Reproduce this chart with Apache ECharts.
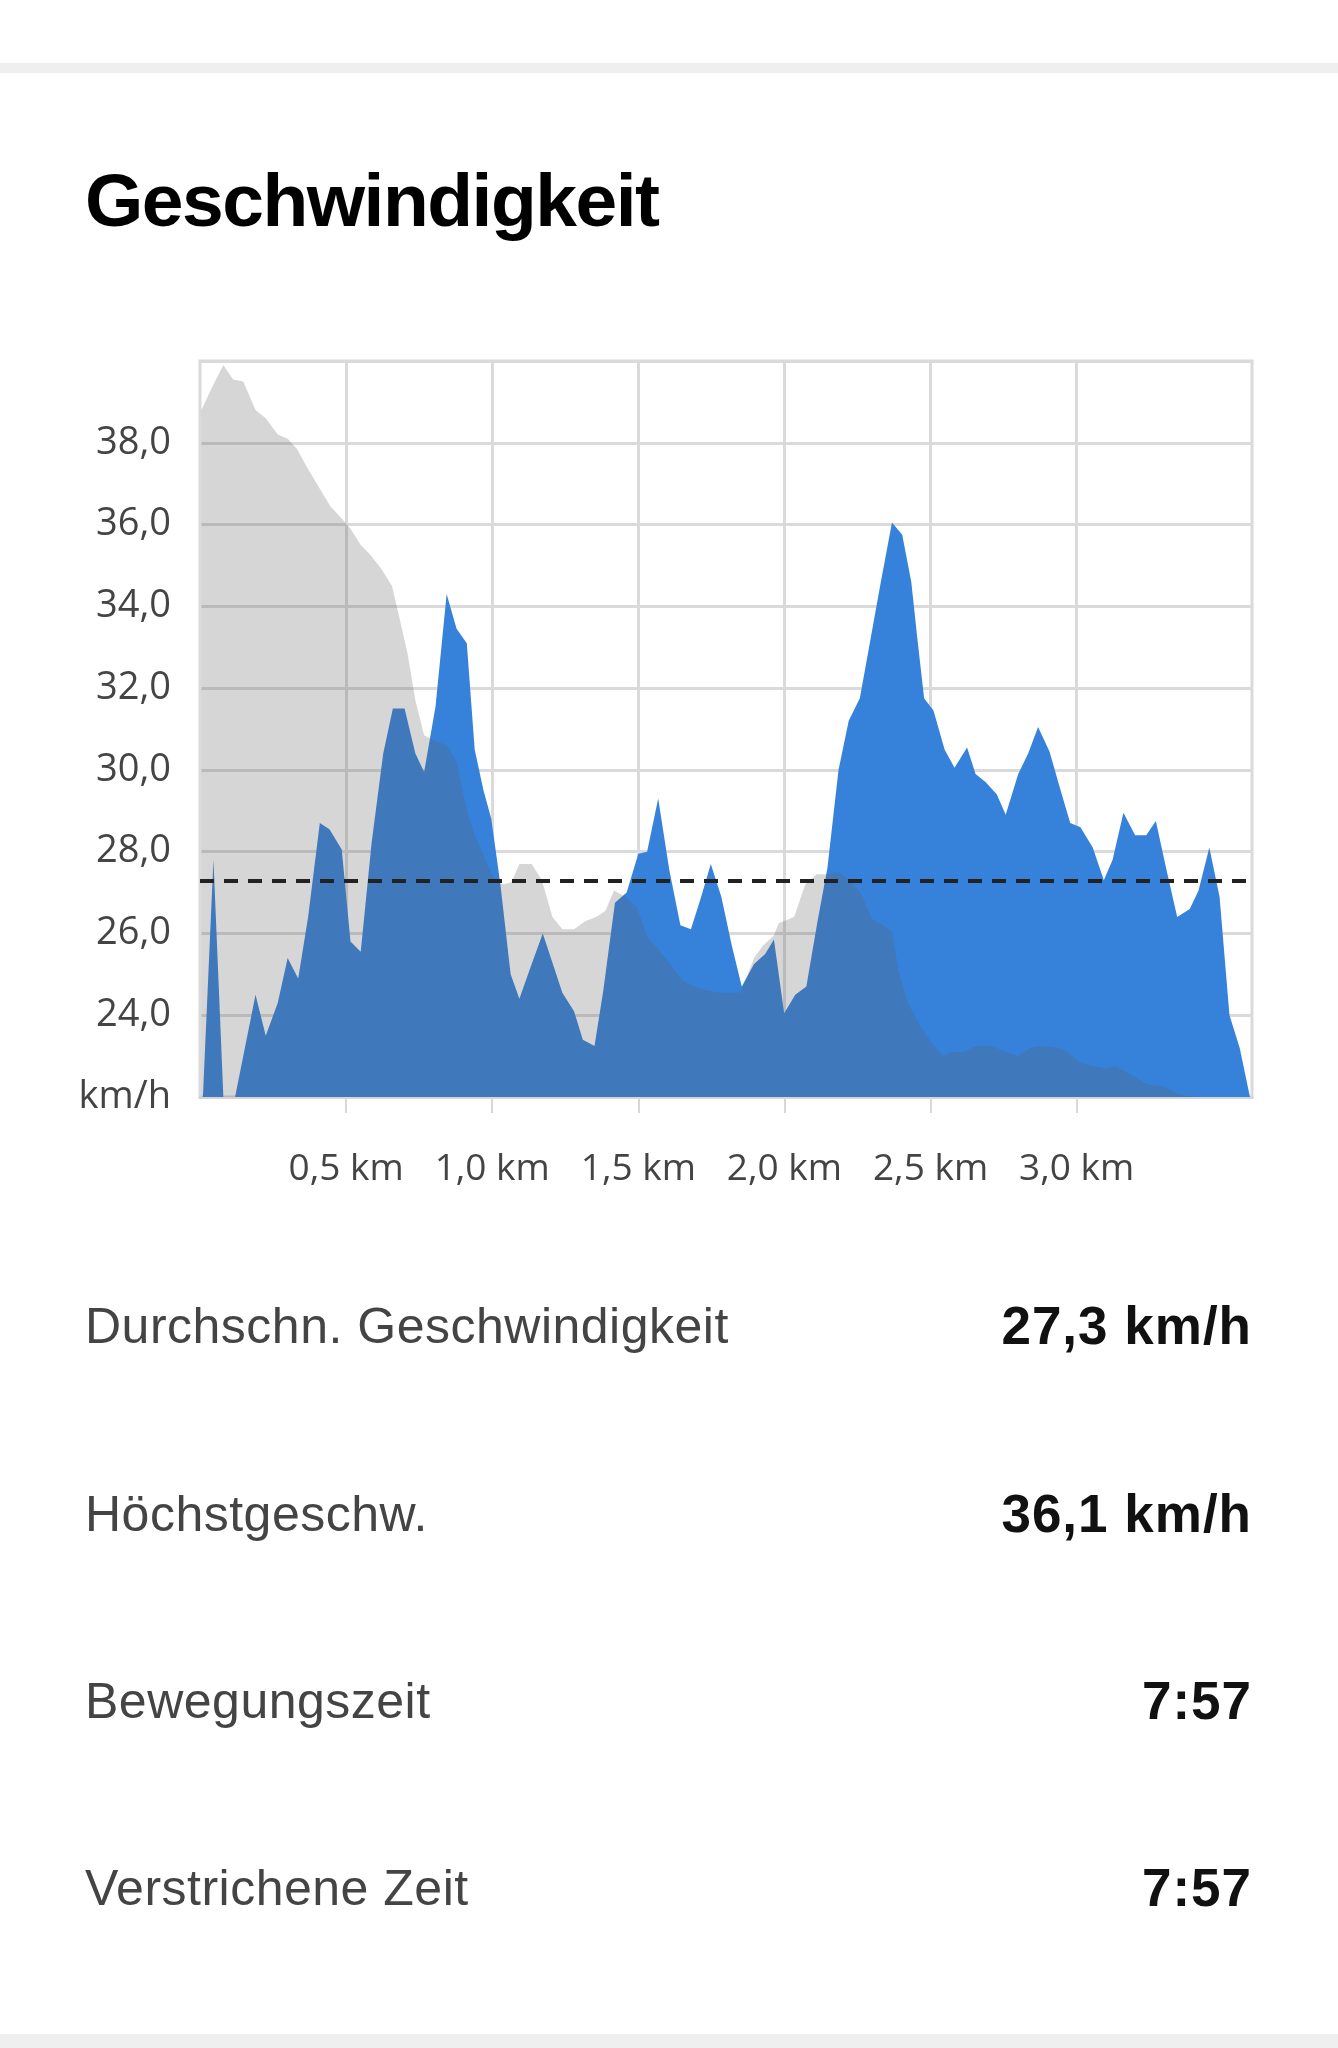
<!DOCTYPE html>
<html>
<head>
<meta charset="utf-8">
<script src="https://cdn.jsdelivr.net/npm/echarts@6/dist/echarts.min.js"></script>
<style>
  html, body { margin:0; padding:0; background:#fff; }
  body { width:1338px; height:2048px; position:relative; overflow:hidden; }
  .band { position:absolute; left:0; width:1338px; background:#efefef; }
  .title { position:absolute; left:85px; top:163px; font-family:"Liberation Sans", Arial, sans-serif; font-weight:bold; font-size:75px; line-height:75px; letter-spacing:-1.5px; color:#000; white-space:nowrap; }
  .lbl { position:absolute; left:85px; font-family:"Liberation Sans", Arial, sans-serif; font-size:50px; line-height:50px; letter-spacing:0.5px; color:#444; white-space:nowrap; }
  .val { position:absolute; right:86px; font-family:"Liberation Sans", Arial, sans-serif; font-weight:bold; font-size:53px; line-height:53px; letter-spacing:1px; color:#111; white-space:nowrap; text-align:right; }
  #chart { position:absolute; left:0; top:0; width:1338px; height:1250px; }
</style>
</head>
<body>
<div class="band" style="top:63px;height:10px;"></div>
<div class="band" style="top:2034px;height:14px;"></div>
<div class="title" id="title"></div>
<div id="chart"></div>
<div id="stats"></div>
<script>
// ---- data ----
const chartTitle = "Geschwindigkeit";
const distanceTicksKm = [0.5, 1.0, 1.5, 2.0, 2.5, 3.0];
const speedTicks = [22, 24, 26, 28, 30, 32, 34, 36, 38, 40];
const averageSpeed = 27.3;

// speed of this ride: [distance km, speed km/h]
const speedKm = [0.01,0.046,0.08,0.12,0.19,0.225,0.266,0.30,0.336,0.37,0.41,0.443,0.485,0.515,0.55,0.587,0.627,0.66,0.70,0.737,0.767,0.806,0.844,0.878,0.913,0.94,0.97,0.997,1.028,1.063,1.093,1.135,1.173,1.203,1.24,1.28,1.31,1.35,1.38,1.42,1.46,1.50,1.53,1.568,1.606,1.644,1.68,1.713,1.748,1.784,1.82,1.854,1.896,1.934,1.964,1.999,2.037,2.075,2.112,2.147,2.185,2.22,2.258,2.292,2.33,2.368,2.403,2.434,2.455,2.478,2.51,2.548,2.582,2.625,2.654,2.689,2.727,2.757,2.8,2.834,2.868,2.907,2.943,2.978,3.013,3.055,3.093,3.123,3.16,3.2,3.238,3.271,3.306,3.344,3.387,3.417,3.454,3.489,3.523,3.558,3.593];
const speedVal = [22.0,27.8,22.0,22.0,24.5,23.5,24.3,25.4,24.9,26.4,28.7,28.55,28.05,25.8,25.55,28.2,30.4,31.5,31.5,30.4,29.95,31.55,34.3,33.45,33.1,30.5,29.5,28.8,27.2,25.0,24.4,25.25,26.0,25.35,24.55,24.1,23.4,23.25,24.6,26.75,27.0,27.95,28.0,29.3,27.55,26.2,26.1,26.85,27.7,26.9,25.7,24.7,25.25,25.5,25.85,24.05,24.5,24.7,26.25,27.6,30.0,31.2,31.75,33.1,34.6,36.05,35.75,34.6,33.2,31.75,31.45,30.5,30.05,30.55,29.9,29.7,29.4,28.9,29.9,30.4,31.05,30.45,29.55,28.7,28.6,28.1,27.3,27.8,28.95,28.4,28.4,28.75,27.6,26.4,26.6,27.05,28.1,26.9,24.0,23.2,22.0];

// grey background profile, in y-axis units
const profileKm = [0.005,0.041,0.08,0.113,0.148,0.19,0.225,0.266,0.30,0.332,0.37,0.408,0.446,0.485,0.515,0.55,0.584,0.622,0.657,0.683,0.71,0.737,0.767,0.806,0.844,0.878,0.913,0.943,0.974,1.005,1.035,1.066,1.093,1.135,1.17,1.206,1.24,1.28,1.318,1.356,1.387,1.417,1.456,1.494,1.532,1.57,1.609,1.652,1.69,1.736,1.78,1.85,1.896,1.926,1.964,1.98,2.033,2.071,2.11,2.147,2.185,2.223,2.26,2.3,2.338,2.368,2.39,2.42,2.459,2.506,2.543,2.574,2.612,2.658,2.711,2.757,2.8,2.841,2.88,2.94,2.97,3.009,3.062,3.1,3.131,3.184,3.245,3.3,3.352,3.413,3.593];
const profileVal = [38.8,39.35,39.9,39.55,39.5,38.8,38.6,38.2,38.1,37.85,37.35,36.9,36.45,36.15,35.9,35.5,35.25,34.9,34.5,33.7,32.85,31.7,30.85,30.7,30.6,30.2,29.0,28.35,27.85,27.35,27.2,27.25,27.7,27.7,27.3,26.4,26.1,26.1,26.3,26.4,26.55,27.05,26.9,26.65,25.9,25.6,25.25,24.85,24.7,24.6,24.55,24.55,25.4,25.7,25.95,26.25,26.4,27.2,27.45,27.45,27.5,27.3,27.0,26.35,26.2,26.05,25.1,24.35,23.8,23.3,23.0,23.1,23.1,23.25,23.25,23.1,23.0,23.2,23.25,23.2,23.1,22.85,22.75,22.7,22.75,22.55,22.3,22.25,22.05,22.0,22.0];

const statLabels = ["Durchschn. Geschwindigkeit", "Höchstgeschw.", "Bewegungszeit", "Verstrichene Zeit"];
const statValues = ["27,3 km/h", "36,1 km/h", "7:57", "7:57"];

// ---- text ----
document.getElementById('title').textContent = chartTitle;
const statBaselines = [1343, 1531, 1718, 1905];
const stats = document.getElementById('stats');
statLabels.forEach((t, i) => {
  const l = document.createElement('div');
  l.className = 'lbl';
  l.style.top = (statBaselines[i] - 0.8465 * 50) + 'px';
  l.textContent = t;
  stats.appendChild(l);
  const v = document.createElement('div');
  v.className = 'val';
  v.style.top = (statBaselines[i] + 1 - 0.8465 * 53) + 'px';
  v.textContent = statValues[i];
  stats.appendChild(v);
});

// ---- chart ----
const chart = echarts.init(document.getElementById('chart'), null, {renderer: 'canvas'});
const fmt = v => v.toFixed(1).replace('.', ',');
const gridColor = '#dadada';
chart.setOption({
  animation: false,
  backgroundColor: 'transparent',
  grid: { left: 200, right: 86, top: 361, bottom: 1250 - 1097, show: true, borderColor: gridColor, borderWidth: 3, backgroundColor: 'transparent' },
  xAxis: {
    type: 'value', min: 0, max: 3.6,
    axisLine: { show: true, lineStyle: { color: '#d4d4d4', width: 3 } },
    axisTick: { show: true, customValues: distanceTicksKm, length: 16, lineStyle: { color: '#d8d8d8', width: 2 } },
    axisLabel: { customValues: distanceTicksKm, margin: 54, color: '#444', fontSize: 37, fontFamily: 'Open Sans',
      formatter: v => fmt(v) + ' km' },
    splitLine: { show: false }
  },
  yAxis: {
    type: 'value', min: speedTicks[0], max: speedTicks[speedTicks.length - 1], interval: 2,
    axisLine: { show: false }, axisTick: { show: false },
    axisLabel: { margin: 29, color: '#444', fontSize: 38, fontFamily: 'Open Sans',
      formatter: v => v === speedTicks[0] ? 'km/h' : (v === speedTicks[speedTicks.length - 1] ? '' : fmt(v)) },
    splitLine: { show: true, lineStyle: { color: gridColor, width: 3 } }
  },
  series: [
    {
      type: 'line', z: 2, showSymbol: false, symbol: 'none',
      data: speedKm.map((k, i) => [k, speedVal[i]]),
      lineStyle: { width: 0 },
      areaStyle: { color: '#3682db', opacity: 1, origin: 'start' },
      markLine: {
        z: 1, silent: true, symbol: ['none', 'none'], label: { show: false },
        lineStyle: { color: gridColor, width: 3, type: 'solid' },
        data: distanceTicksKm.map(k => ({ xAxis: k }))
      }
    },
    {
      type: 'line', z: 3, showSymbol: false, symbol: 'none',
      data: profileKm.map((k, i) => [k, profileVal[i]]),
      lineStyle: { width: 0 },
      areaStyle: { color: 'rgba(93,93,93,0.25)', opacity: 1, origin: 'start' },
      markLine: {
        z: 10, silent: true, symbol: ['none', 'none'], label: { show: false },
        lineStyle: { color: '#222', width: 4, type: [14, 10] },
        data: [{ yAxis: averageSpeed }]
      }
    }
  ]
});
</script>
</body>
</html>
